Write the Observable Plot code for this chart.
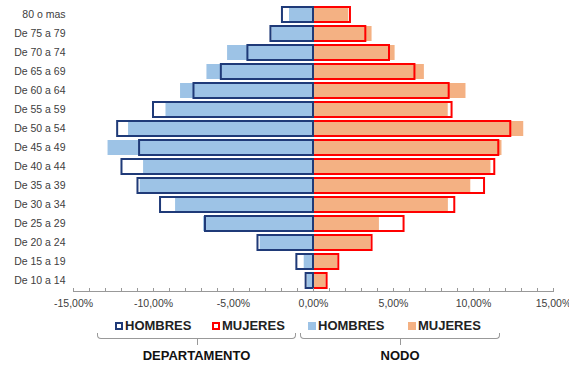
<!DOCTYPE html>
<html><head><meta charset="utf-8">
<script src="https://cdn.jsdelivr.net/npm/d3@7"></script>
<script src="https://cdn.jsdelivr.net/npm/@observablehq/plot@0.6"></script>
<style>
body{margin:0;background:#fff;font-family:"Liberation Sans",Arial,sans-serif;}
#wrap{position:relative;width:569px;height:366px;overflow:hidden}
.leg{position:absolute;top:319px;font-weight:bold;font-size:13px;color:#222;line-height:14px;white-space:nowrap}
.sw{display:inline-block;width:8px;height:8px;box-sizing:border-box;margin-right:2px;vertical-align:0px}
.br{position:absolute;top:333px;height:5px;border:1px solid #999;border-top:none;border-radius:0 0 4px 4px;}
.br::after{content:"";position:absolute;left:50%;top:5px;width:1px;height:7px;background:#999}
.grp{position:absolute;top:348px;font-weight:bold;font-size:13px;color:#111;transform:translateX(-50%);white-space:nowrap}
</style></head>
<body>
<div id="wrap"></div>
<script>
const ages = ["80 o mas","De 75 a 79","De 70 a 74","De 65 a 69","De 60 a 64","De 55 a 59","De 50 a 54","De 45 a 49","De 40 a 44","De 35 a 39","De 30 a 34","De 25 a 29","De 20 a 24","De 15 a 19","De 10 a 14"];
const hombresDepartamento = [1.94,2.66,4.10,5.76,7.47,10.0,12.24,10.87,11.97,10.97,9.56,6.75,3.47,1.04,0.46];
const hombresNodo         = [1.50,2.60,5.37,6.66,8.31,9.22,11.56,12.84,10.62,10.83,8.62,6.87,3.33,0.58,0.37];
const mujeresDepartamento = [2.31,3.27,4.75,6.34,8.48,8.66,12.33,11.58,11.33,10.69,8.83,5.66,3.66,1.58,0.85];
const mujeresNodo         = [2.20,3.66,5.10,6.93,9.53,8.42,13.14,11.78,11.09,9.83,8.43,4.12,3.58,1.50,0.79];
const xTicks = [-15,-10,-5,0,5,10,15];

const rows = ages.map((a,i)=>({age:a, hd:hombresDepartamento[i], hn:hombresNodo[i], md:mujeresDepartamento[i], mn:mujeresNodo[i]}));
const fmt = d => (d<0?"-":"") + Math.abs(d).toFixed(2).replace(".",",") + "%";

const chart = Plot.plot({
  width:569, height:314, marginLeft:73, marginRight:16, marginTop:5, marginBottom:23,
  style:{fontFamily:"Liberation Sans, Arial, sans-serif", fontSize:"10.5px", color:"#404040", background:"#fff", overflow:"visible"},
  x:{domain:[-15,15]},
  y:{domain:ages, paddingInner:0.2, paddingOuter:0.1, label:null},
  marks:[
    Plot.barX(rows,{y:"age", x1:0, x2:d=>-d.hn, fill:"#9DC3E6"}),
    Plot.barX(rows,{y:"age", x1:0, x2:d=>d.mn, fill:"#F4B183"}),
    Plot.barX(rows,{y:"age", x1:0, x2:d=>d.md, fill:"none", stroke:"#FF0000", strokeWidth:2}),
    Plot.barX(rows,{y:"age", x1:0, x2:d=>-d.hd, fill:"none", stroke:"#1F3A78", strokeWidth:2}),
    Plot.frame({anchor:"bottom", stroke:"#999"}),
    Plot.axisX({ticks:d3.range(-15,16,1), tickSize:-3, tickFormat:()=>"", stroke:"#999", label:null}),
    Plot.axisX({ticks:xTicks, tickSize:0, tickPadding:8, tickFormat:fmt, label:null}),
    Plot.axisY({tickSize:0, tickPadding:8, label:null})
  ]
});
const wrap = document.getElementById("wrap");
wrap.appendChild(chart);

const legend = [
  {label:"HOMBRES", left:115, style:"border:2px solid #1F3A78;background:#fff"},
  {label:"MUJERES", left:212, style:"border:2px solid #FF0000;background:#fff"},
  {label:"HOMBRES", left:308, style:"background:#9DC3E6"},
  {label:"MUJERES", left:408, style:"background:#F4B183"}
];
legend.forEach(l=>{
  const d=document.createElement("div");
  d.className="leg"; d.style.left=l.left+"px";
  d.innerHTML=`<span class="sw" style="${l.style}"></span>${l.label}`;
  wrap.appendChild(d);
});
const groups=[{label:"DEPARTAMENTO", left:97, width:197},{label:"NODO", left:300, width:198}];
groups.forEach(g=>{
  const b=document.createElement("div"); b.className="br";
  b.style.left=g.left+"px"; b.style.width=g.width+"px"; wrap.appendChild(b);
  const t=document.createElement("div"); t.className="grp";
  t.style.left=(g.left+g.width/2+1)+"px"; t.textContent=g.label; wrap.appendChild(t);
});
</script>
</body></html>
